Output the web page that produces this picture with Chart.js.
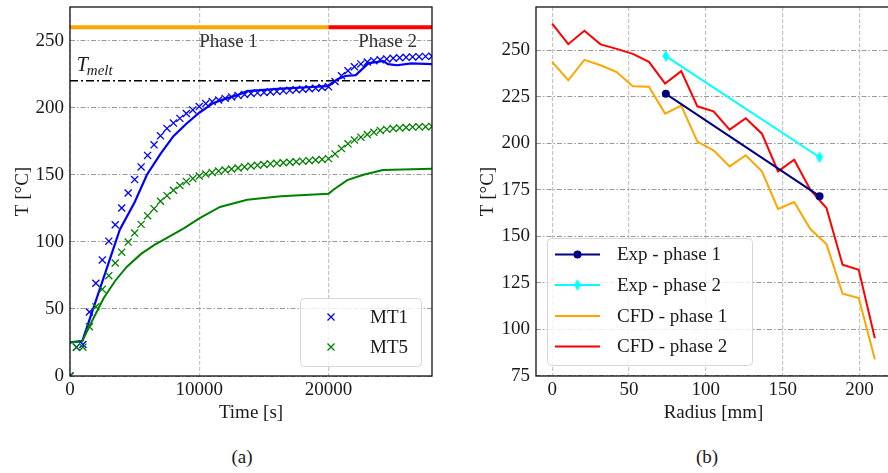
<!DOCTYPE html>
<html>
<head>
<meta charset="utf-8">
<script src="https://cdn.jsdelivr.net/npm/chart.js@4.4.1/dist/chart.umd.min.js"></script>
<style>
html, body { margin: 0; padding: 0; background: #fff; overflow: hidden; width: 888px; height: 473px; }
#wrap { position: relative; width: 888px; height: 473px; }
canvas { position: absolute; top: 0; }
#chartA { left: 0; }
#chartB { left: 444px; }
.cap { position: absolute; top: 446px; width: 60px; text-align: center; line-height: 22px;
       font-family: "Liberation Serif", serif; font-size: 19px; color: #1a1a1a; }
</style>
</head>
<body>
<div id="wrap">
  <canvas id="chartA" width="444" height="440"></canvas>
  <canvas id="chartB" width="454" height="440"></canvas>
  <div class="cap" style="left:212px">(a)</div>
  <div class="cap" style="left:677px">(b)</div>
</div>
<script>
// --- Panel (a): temperature vs time ---
const timeExp = [0, 500, 1000, 1500, 2000, 2500, 3000, 3500, 4000, 4500, 5000, 5500, 6000, 6500, 7000, 7500,
    8000, 8500, 9000, 9500, 10000, 10500, 11000, 11500, 12000, 12500, 13000, 13500, 14000, 14500, 15000,
    15500, 16000, 16500, 17000, 17500, 18000, 18500, 19000, 19500, 20000, 20500, 21000, 21500, 22000,
    22500, 23000, 23500, 24000, 24500, 25000, 25500, 26000, 26500, 27000, 27500, 28000];
const mt1Exp = [0, 21.5, 23.5, 47.7, 69.1, 86.5, 100.5, 112.7, 125.2, 136.4, 146.4, 155.8, 164.4, 172.3, 179, 184.5,
    188.5, 192, 195.6, 198.3, 200.8, 203, 204.5, 205.7, 206.9, 208, 209, 209.8, 210.5, 211, 211.3,
    211.7, 212.1, 212.5, 212.9, 213.3, 213.7, 214.1, 214.5, 215, 215.5, 219.5, 223.8, 227.5, 230.5,
    232.6, 234, 235, 235.7, 236.3, 236.8, 237.2, 237.5, 237.8, 238, 238.2, 238.3];
const mt5Exp = [0, 21.5, 21.5, 36.7, 51.6, 64.6, 74.8, 84.2, 92.3, 99.8, 106.5, 113, 119.5, 124.7, 130.2, 134.4,
    138.4, 141.9, 145, 147.1, 149, 150.5, 151.7, 152.7, 153.5, 154.3, 155, 155.8, 156.5, 157, 157.6,
    158.1, 158.5, 158.9, 159.3, 159.7, 160.1, 160.5, 161, 161.4, 162, 165.5, 169.5, 173, 175.8,
    178, 180, 181.6, 183, 183.8, 184.4, 184.9, 185.2, 185.5, 185.7, 185.8, 186];

const timeCfd1 = [0, 950, 3850, 5000, 5950, 7000, 8000, 9000, 10000, 11100, 12000, 13000, 13700, 15000, 16300,
    18000, 19900, 20700, 21300, 22100, 23100, 23800, 24200, 24600, 25300, 26400, 28000];
const mt1Cfd = [25, 26, 109, 129.5, 150, 165.5, 178.7, 188, 196.2, 203.5, 206.5, 209.5, 212.3, 213.3, 214.2,
    215, 216, 221.2, 223.6, 224.2, 233.2, 234.1, 234.9, 232.4, 231.6, 233, 232.5];
const timeCfd5 = [0, 950, 1550, 2600, 3500, 4400, 5500, 6500, 7500, 8800, 10000, 11600, 13700, 16300, 20000,
    20400, 21450, 22700, 24200, 28000];
const mt5Cfd = [25, 26, 38, 58, 71, 81.5, 91, 97.5, 103, 110, 117.5, 126, 131.4, 133.9, 135.9,
    139, 146, 150, 153.5, 154.5];

const timeRange = [0, 28000];
const phase1Span = [0, 20000];
const phase2Span = [20000, 28000];
const phaseLevel = 260;
const tMelt = 220;
const timeTicks = [0, 10000, 20000];
const tempTicksA = [0, 50, 100, 150, 200, 250];

// --- Panel (b): temperature vs radius ---
const radius = [0, 10.5, 21, 31.5, 42, 52.5, 63, 73.5, 84, 94.5, 105, 115.5, 126, 136.5, 147, 157.5,
    168, 178.5, 189, 199.5, 210];
const cfdPhase1 = [243.7, 233.8, 244.8, 241.9, 238.2, 230.6, 230.3, 215.9, 220.2, 200.8, 196.1, 187.5,
    193.5, 184.8, 164.6, 168.3, 153.8, 145.7, 119, 116.7, 83.8];
const cfdPhase2 = [264.2, 253.2, 260.4, 253.1, 250.7, 248, 243.7, 232, 238.7, 219.8, 217.1, 207.3,
    213.4, 205.1, 184.8, 191.1, 175, 165.1, 134.6, 131.9, 95.1];
const expRadius = [74, 174];
const expPhase1 = [226.5, 171.5];
const expPhase2 = [246.8, 192.4];
const radiusTicks = [0, 50, 100, 150, 200];
const tempTicksB = [75, 100, 125, 150, 175, 200, 225, 250];

// --- Shared styling ---
const FONT = "'Liberation Serif', 'Times New Roman', serif";
const TXT = "#1a1a1a";
const tickFont = { family: FONT, size: 19 };

const pts = (xs, ys) => xs.map((x, i) => ({ x, y: ys[i] }));
const fixTicks = vals => scale => { scale.ticks = vals.map(v => ({ value: v })); };
function fitY(w) {
    return s => { s.width = w; s.paddingTop = 0; s.paddingBottom = 0; s.paddingLeft = 0; s.paddingRight = 0; };
}
function fitX(h) {
    return s => { s.height = h; s.paddingTop = 0; s.paddingBottom = 0; s.paddingLeft = 0; s.paddingRight = 0; };
}

function thinDiamond(color) {
    const c = document.createElement("canvas");
    c.width = 8; c.height = 12;
    const g = c.getContext("2d");
    g.fillStyle = color;
    g.beginPath();
    g.moveTo(4, 0); g.lineTo(7.5, 6); g.lineTo(4, 12); g.lineTo(0.5, 6);
    g.closePath(); g.fill();
    return c;
}
const diamondCyan = thinDiamond("#00ffff");

function xScale(min, max, ticks, title) {
    return {
        type: "linear", min, max,
        afterBuildTicks: fixTicks(ticks),
        afterFit: fitX(64),
        grid: { color: "#c6c6c6", lineWidth: 1.2, drawTicks: false },
        border: { display: false, dash: [4, 2] },
        ticks: { padding: 3, color: TXT, font: tickFont, maxRotation: 0, callback: v => String(v) },
        title: { display: true, text: title, color: TXT, font: tickFont, padding: { top: 0, bottom: 16 } },
    };
}
function yScale(min, max, ticks, width, titlePad) {
    return {
        type: "linear", min, max,
        afterBuildTicks: fixTicks(ticks),
        afterFit: fitY(width),
        grid: { color: "#9a9a9a", lineWidth: 1, drawTicks: false },
        border: { display: false, dash: [5, 2, 1.5, 2] },
        ticks: { padding: 6, color: TXT, font: tickFont, callback: v => String(v) },
        title: { display: true, text: "T [°C]", color: TXT, font: tickFont, padding: { top: titlePad, bottom: 0 } },
    };
}

// axes frame (matplotlib spines)
const framePlugin = {
    id: "frame",
    afterDatasetsDraw(chart) {
        const { left, right, top, bottom } = chart.chartArea;
        const c = chart.ctx;
        c.save();
        c.strokeStyle = "#111";
        c.lineWidth = 1.3;
        c.strokeRect(left, top, right - left, bottom - top);
        c.restore();
    },
};

// legend box drawn inside the axes
function drawMarker(c, kind, color, x, y) {
    c.save();
    if (kind === "x") {
        c.strokeStyle = color; c.lineWidth = 1.3;
        c.beginPath();
        c.moveTo(x - 3.5, y - 3.5); c.lineTo(x + 3.5, y + 3.5);
        c.moveTo(x - 3.5, y + 3.5); c.lineTo(x + 3.5, y - 3.5);
        c.stroke();
    } else if (kind === "o") {
        c.fillStyle = color;
        c.beginPath(); c.arc(x, y, 4, 0, Math.PI * 2); c.fill();
    } else if (kind === "d") {
        c.drawImage(diamondCyan, x - 4, y - 6);
    }
    c.restore();
}
const legendPlugin = {
    id: "boxLegend",
    afterDraw(chart, args, o) {
        const c = chart.ctx;
        const [bx, by, bw, bh] = o.box;
        c.save();
        c.beginPath();
        c.roundRect(bx + 0.5, by + 0.5, bw, bh, 4);
        c.fillStyle = "rgba(255,255,255,0.8)";
        c.fill();
        c.strokeStyle = "#d6d6d6";
        c.lineWidth = 1;
        c.stroke();
        c.font = "19px " + FONT;
        c.textBaseline = "middle";
        c.fillStyle = TXT;
        o.items.forEach((it, i) => {
            const ds = chart.data.datasets[it.index];
            const y = o.rows[i];
            if (it.line) {
                c.strokeStyle = ds.borderColor;
                c.lineWidth = 2;
                c.beginPath(); c.moveTo(o.sample[0], y); c.lineTo(o.sample[1], y); c.stroke();
            }
            if (it.marker) drawMarker(c, it.marker, ds.borderColor, (o.sample[0] + o.sample[1]) / 2, y);
            c.fillStyle = TXT;
            c.fillText(ds.label, o.textX, y + 1);
        });
        c.restore();
    },
};

// text annotations of panel (a)
const phaseLabels = [{ text: "Phase 1", at: [10000, 245] }, { text: "Phase 2", at: [22300, 245] }];
const tMeltLabelAt = [530, 227];
const notesPlugin = {
    id: "notes",
    afterDatasetsDraw(chart) {
        const c = chart.ctx, xs = chart.scales.x, ys = chart.scales.y;
        c.save();
        c.fillStyle = "#333";
        c.textBaseline = "alphabetic";
        c.font = "19px " + FONT;
        phaseLabels.forEach(p => c.fillText(p.text, xs.getPixelForValue(p.at[0]), ys.getPixelForValue(p.at[1])));
        const tx = xs.getPixelForValue(tMeltLabelAt[0]), ty = ys.getPixelForValue(tMeltLabelAt[1]);
        c.fillStyle = TXT;
        c.font = "italic 20px " + FONT;
        c.fillText("T", tx, ty);
        c.font = "italic 15px " + FONT;
        c.fillText("melt", tx + 10, ty + 3.5);
        c.restore();
    },
};

const lineDs = (label, xs, ys, color, width) => ({
    label, data: pts(xs, ys), showLine: true, borderColor: color, backgroundColor: color,
    borderWidth: width, pointRadius: 0, pointHoverRadius: 0, tension: 0,
});

// --- Chart (a) ---
new Chart(document.getElementById("chartA"), {
    type: "scatter",
    data: {
        datasets: [
            { label: "MT5", data: pts(timeExp, mt5Exp), showLine: false, pointStyle: "crossRot",
              pointRadius: 5, borderWidth: 1.3, borderColor: "#008000", backgroundColor: "#008000" },
            { label: "MT1", data: pts(timeExp, mt1Exp), showLine: false, pointStyle: "crossRot",
              pointRadius: 5, borderWidth: 1.3, borderColor: "#0000ff", backgroundColor: "#0000ff" },
            lineDs("CFD MT5", timeCfd5, mt5Cfd, "#008000", 2),
            lineDs("CFD MT1", timeCfd1, mt1Cfd, "#0000ff", 2.2),
            Object.assign(lineDs("Tmelt", timeRange, [tMelt, tMelt], "#000", 1.5), { borderDash: [8, 3, 2, 3] }),
            lineDs("Phase 2", phase2Span, [phaseLevel, phaseLevel], "#ff0000", 4),
            lineDs("Phase 1", phase1Span, [phaseLevel, phaseLevel], "#ffa500", 4),
        ],
    },
    options: {
        responsive: false,
        devicePixelRatio: 1,
        animation: false,
        layout: { padding: { left: 0, right: 12, top: 7, bottom: 0 } },
        scales: {
            x: xScale(timeRange[0], timeRange[1], timeTicks, "Time [s]"),
            y: yScale(0, 275, tempTicksA, 70, 12),
        },
        plugins: {
            legend: { display: false },
            tooltip: { enabled: false },
            boxLegend: {
                box: [300, 298, 121, 68], rows: [317, 347], sample: [318, 344], textX: 370,
                items: [{ index: 1, marker: "x" }, { index: 0, marker: "x" }],
            },
        },
    },
    plugins: [framePlugin, notesPlugin, legendPlugin],
});

// --- Chart (b) ---
new Chart(document.getElementById("chartB"), {
    type: "scatter",
    data: {
        datasets: [
            Object.assign(lineDs("Exp - phase 1", expRadius, expPhase1, "#000080", 2),
                { pointRadius: 4, pointStyle: "circle", pointBackgroundColor: "#000080", pointBorderWidth: 0 }),
            Object.assign(lineDs("Exp - phase 2", expRadius, expPhase2, "#00ffff", 2),
                { pointRadius: 5, pointStyle: diamondCyan }),
            lineDs("CFD - phase 2", radius, cfdPhase2, "#ff0000", 2),
            lineDs("CFD - phase 1", radius, cfdPhase1, "#ffa500", 2),
        ],
    },
    options: {
        responsive: false,
        devicePixelRatio: 1,
        animation: false,
        layout: { padding: { left: 0, right: 0, top: 7, bottom: 0 } },
        scales: {
            x: xScale(-10.5, 220.5, radiusTicks, "Radius [mm]"),
            y: yScale(74.8, 273.2, tempTicksB, 92, 33),
        },
        plugins: {
            legend: { display: false },
            tooltip: { enabled: false },
            boxLegend: {
                box: [103, 238, 205, 127], rows: [254.5, 285, 316, 346.5], sample: [111, 156], textX: 173,
                items: [{ index: 0, line: true, marker: "o" }, { index: 1, line: true, marker: "d" },
                        { index: 3, line: true }, { index: 2, line: true }],
            },
        },
    },
    plugins: [framePlugin, legendPlugin],
});
</script>
</body>
</html>
